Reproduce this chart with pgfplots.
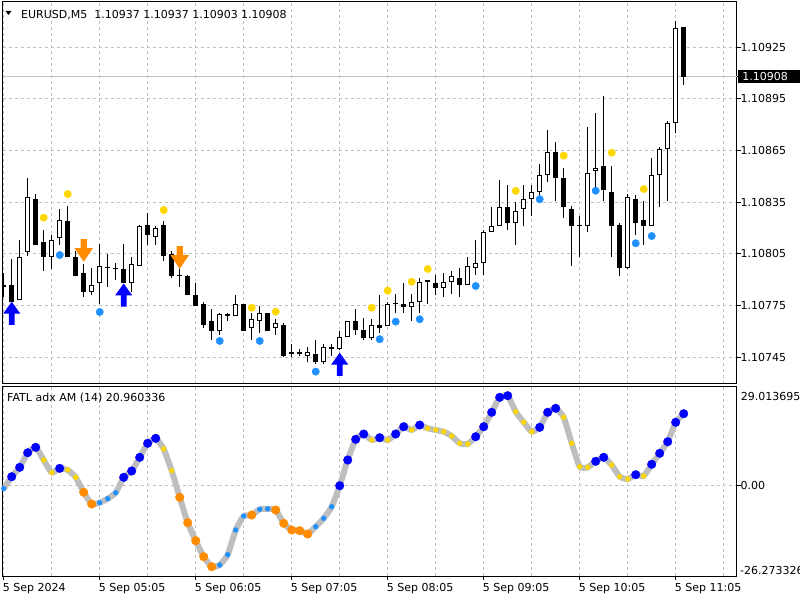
\documentclass[border=0pt]{standalone}
\usepackage{pgfplots}
\pgfplotsset{compat=1.18}
\usepackage{pgfplotstable}
\usepackage{fontspec}
\setmainfont{DejaVu Sans}
\newcommand\mt{\fontsize{11pt}{13pt}\selectfont}

\definecolor{gridc}{RGB}{192,192,192}
\definecolor{fatlc}{RGB}{190,190,190}
\definecolor{mtblue}{RGB}{0,0,255}
\definecolor{mtlblue}{RGB}{30,144,255}
\definecolor{mtyellow}{RGB}{255,215,0}
\definecolor{mtorange}{RGB}{255,140,0}

% Wingdings-like arrows
\pgfdeclareplotmark{mtup}{%
  \pgfpathmoveto{\pgfqpoint{0pt}{11.5pt}}%
  \pgfpathlineto{\pgfqpoint{8.6pt}{-0.5pt}}%
  \pgfpathlineto{\pgfqpoint{2.8pt}{-0.5pt}}%
  \pgfpathlineto{\pgfqpoint{2.8pt}{-11.6pt}}%
  \pgfpathlineto{\pgfqpoint{-2.8pt}{-11.6pt}}%
  \pgfpathlineto{\pgfqpoint{-2.8pt}{-0.5pt}}%
  \pgfpathlineto{\pgfqpoint{-8.6pt}{-0.5pt}}%
  \pgfpathclose\pgfusepathqfill}
\pgfdeclareplotmark{mtdown}{%
  \pgfpathmoveto{\pgfqpoint{0pt}{-11.4pt}}%
  \pgfpathlineto{\pgfqpoint{9.2pt}{2.2pt}}%
  \pgfpathlineto{\pgfqpoint{3.2pt}{2.2pt}}%
  \pgfpathlineto{\pgfqpoint{3.2pt}{11.3pt}}%
  \pgfpathlineto{\pgfqpoint{-3.2pt}{11.3pt}}%
  \pgfpathlineto{\pgfqpoint{-3.2pt}{2.2pt}}%
  \pgfpathlineto{\pgfqpoint{-9.2pt}{2.2pt}}%
  \pgfpathclose\pgfusepathqfill}

% EURUSD M5 candles, prices in points above 1.10700 (k = bar, 04:05 = 0)
\pgfplotstableread{
k o h l c
0 86 94 80 87
1 87 102 77 77
2 78 113 78 103
3 106 149 104 138
4 137 140 110 110
5 112 119 95 103
6 103 116 96 113
7 114 131 110 125
8 124 133 103 103
9 103 107 92 92
10 94 99 80 83
11 83 97 81 87
12 88 111 76 98
13 97 105 86 97
14 97 100 90 96
15 96 111 88 88
16 88 103 83 99
17 98 122 98 121
18 122 129 110 116
19 115 121 110 120
20 122 124 101 104
21 105 107 91 92
22 92 96 86 92
23 92 93 81 81
24 81 88 75 75
25 76 77 62 64
26 66 73 55 60
27 60 71 58 70
28 70 71 66 69
29 69 81 69 76
30 76 76 60 60
31 62 71 55 67
32 66 75 59 71
33 71 71 60 60
34 62 67 58 65
35 64 65 45 46
36 47 53 45 48
37 48 50 46 47
38 46 51 42 48
39 47 55 41 42
40 42 53 41 51
41 50 53 46 51
42 50 60 49 57
43 57 66 57 66
44 66 73 58 61
45 61 68 55 56
46 56 67 55 64
47 64 81 59 62
48 63 77 63 76
49 76 82 71 76
50 76 88 71 74
51 74 82 66 77
52 77 91 71 89
53 90 90 76 89
54 88 93 81 85
55 85 94 80 89
56 89 95 82 92
57 91 97 80 87
58 87 103 87 98
59 97 113 93 100
60 100 119 93 118
61 118 132 118 121
62 121 148 121 132
63 132 145 119 123
64 123 135 110 130
65 131 145 121 137
66 137 145 127 141
67 141 157 137 151
68 151 177 147 164
69 164 170 136 149
70 149 155 126 132
71 131 133 98 121
72 122 127 103 121
73 121 179 118 152
74 153 187 143 155
75 156 197 136 142
76 141 156 103 121
77 122 123 92 97
78 97 140 96 138
79 137 139 116 123
80 125 136 110 121
81 121 161 121 151
82 151 167 132 166
83 166 182 136 181
84 181 240 175 236
85 237 237 203 208
}\candles

% FATL adx AM (14); cls: b blue, y yellow, o orange, l light blue
\pgfplotstableread{
k v cls
0 -0.87 l
1 2.62 b
2 5.35 b
3 9.60 b
4 11.17 b
5 7.48 y
6 3.78 y
7 5.06 b
8 4.57 y
9 2.44 y
10 -1.92 o
11 -5.33 o
12 -4.95 l
13 -3.78 l
14 -2.04 l
15 2.44 b
16 4.28 b
17 8.26 b
18 12.34 b
19 13.79 b
20 10.68 y
21 4.36 y
22 -3.38 o
23 -10.77 o
24 -16.00 o
25 -20.66 o
26 -23.57 o
27 -23.08 l
28 -20.08 l
29 -12.89 l
30 -8.82 l
31 -8.53 o
32 -6.87 l
33 -6.72 l
34 -7.07 o
35 -10.94 o
36 -12.89 o
37 -13.09 o
38 -14.05 o
39 -11.93 l
40 -9.49 l
41 -6.11 l
42 0.00 b
43 7.48 b
44 13.50 b
45 15.04 b
46 13.30 y
47 13.97 b
48 13.30 y
49 15.04 b
50 17.17 b
51 16.21 y
52 17.66 b
53 16.70 y
54 16.21 y
55 15.71 y
56 14.46 y
57 12.34 y
58 12.13 y
59 14.26 b
60 17.17 b
61 21.36 b
62 25.72 b
63 26.19 b
64 21.53 y
65 18.48 y
66 15.71 y
67 16.99 b
68 21.36 b
69 22.52 b
70 19.90 y
71 12.34 y
72 5.53 y
73 5.35 y
74 7.10 b
75 8.26 b
76 6.02 y
77 2.62 y
78 1.95 y
79 3.20 b
80 2.82 y
81 6.23 b
82 9.43 b
83 12.80 b
84 18.45 b
85 20.96 b
}\fatl

\begin{document}
\begin{tikzpicture}
\path[use as bounding box] (0,0) rectangle (800pt,600pt);
\pgfplotsset{mtframe/.style={
  scale only axis, width=734pt, xmin=-0.15, xmax=91.6,
  axis line style={line width=1pt}, clip mode=individual,
  grid style={gridc, dash pattern=on 3pt off 3pt, line width=1pt},
  tick label style={font=\mt}, tick style={black, line width=1pt},
  tick align=outside, major tick length=4pt, minor tick length=0pt,
  ytick pos=right, yticklabel pos=right,
  yticklabel style={anchor=west, inner xsep=0pt}}}

\begin{axis}[mtframe, at={(2.5pt,216pt)}, anchor=south west, height=382.3pt,
  ymin=29.5, ymax=251.48,
  xtick={0,6,...,90}, xticklabels={}, xtick style={draw=none}, xmajorgrids,
  ytick={45,75,105,135,165,195,225},
  yticklabels={1.10745,1.10775,1.10805,1.10835,1.10865,1.10895,1.10925},
  ymajorgrids,
  extra y ticks={208}, extra y tick labels={},
  extra y tick style={grid=major, major grid style={solid, gridc, line width=1pt}}]
  % wicks
  \addplot[draw=none, mark=none, error bars/.cd, y dir=plus, y explicit, error mark=none,
    error bar style={draw=black, solid, line width=1pt}]
    table[x=k, y=l, y error expr=\thisrow{h}-\thisrow{l}] {\candles};
  % bodies
  \addplot[draw=none, mark=none, error bars/.cd, y dir=plus, y explicit, error mark=none,
    error bar style={draw=black, solid, line width=5pt}]
    table[x=k, y expr={min(\thisrow{o},\thisrow{c})},
      y error expr={max(abs(\thisrow{c}-\thisrow{o}),0.6)}] {\candles};
  \addplot[draw=none, mark=none, error bars/.cd, y dir=plus, y explicit, error mark=none,
    error bar style={draw=white, solid, line width=3pt}]
    table[x=k, y expr={\thisrow{o}+0.58},
      y error expr={max(\thisrow{c}-\thisrow{o}-1.16,0)}] {\candles};
  % signal dots
  \addplot[only marks, mark=*, mark size=3.7pt, mark options={draw=mtyellow, fill=mtyellow}]
    coordinates {(5,126.1) (8,139.8) (20,130.5) (31,73.8) (34,71.5) (46,73.8) (48,83.7)
      (51,88.9) (53,96.3) (64,141.6) (70,162.1) (76,163.8) (80,142.7)};
  \addplot[only marks, mark=*, mark size=3.7pt, mark options={draw=mtlblue, fill=mtlblue}]
    coordinates {(7,104.4) (12,71.3) (27,54.5) (32,54.5) (39,36.7) (47,55.5) (49,65.7)
      (52,67.1) (59,86.4) (67,136.8) (74,141.7) (79,111.2) (81,115.4)};
  % arrows
  \addplot[only marks, mark=mtup, color=mtblue] coordinates {(1,70.6) (15,81.2) (42,41.0)};
  \addplot[only marks, mark=mtdown, color=mtorange] coordinates {(10,107.1) (22,103.0)};
\end{axis}

\begin{axis}[mtframe, at={(2.5pt,24pt)}, anchor=south west, height=190pt,
  ymin=-26.273326, ymax=29.013695,
  xtick={0,12,...,84}, minor xtick={6,18,...,90}, xtick pos=bottom,
  xticklabels={5 Sep 2024,5 Sep 05:05,5 Sep 06:05,5 Sep 07:05,5 Sep 08:05,5 Sep 09:05,5 Sep 10:05,5 Sep 11:05},
  xticklabel style={anchor=north west, inner xsep=0pt, xshift=-1pt},
  xmajorgrids, xminorgrids,
  ytick={0}, yticklabels={0.00}, ymajorgrids]
  \addplot[fatlc, line width=6pt, line join=round, smooth, tension=0.3] table[x=k, y=v] {\fatl};
  \addplot[scatter, only marks, scatter src=explicit symbolic,
    scatter/classes={
      b={mark=*, mark size=4.3pt, draw=mtblue, fill=mtblue},
      o={mark=*, mark size=4.3pt, draw=mtorange, fill=mtorange},
      y={mark=*, mark size=2.4pt, draw=mtyellow, fill=mtyellow},
      l={mark=*, mark size=2.4pt, draw=mtlblue, fill=mtlblue}}]
    table[x=k, y=v, meta=cls] {\fatl};
\end{axis}

% window captions and side labels
\fill (5.5pt,589pt) -- (11.5pt,589pt) -- (8.5pt,585pt) -- cycle;
\node[font=\mt, anchor=base west, inner sep=0pt] at (21pt,581.7pt)
  {EURUSD,M5~~1.10937 1.10937 1.10903 1.10908};
\node[font=\mt, anchor=base west, inner sep=0pt] at (7pt,198.6pt)
  {FATL adx AM (14) 20.960336};
\node[font=\mt, anchor=west, fill=black, text=white, inner xsep=4.7pt, inner ysep=0pt,
  minimum height=13pt, text width=58pt, align=left] at (737.5pt,523.3pt) {1.10908};
\node[font=\mt, anchor=west, inner sep=0pt] at (740.7pt,204pt) {29.013695};
\node[font=\mt, anchor=west, inner sep=0pt] at (740pt,30pt) {-26.273326};
\end{tikzpicture}
\end{document}
